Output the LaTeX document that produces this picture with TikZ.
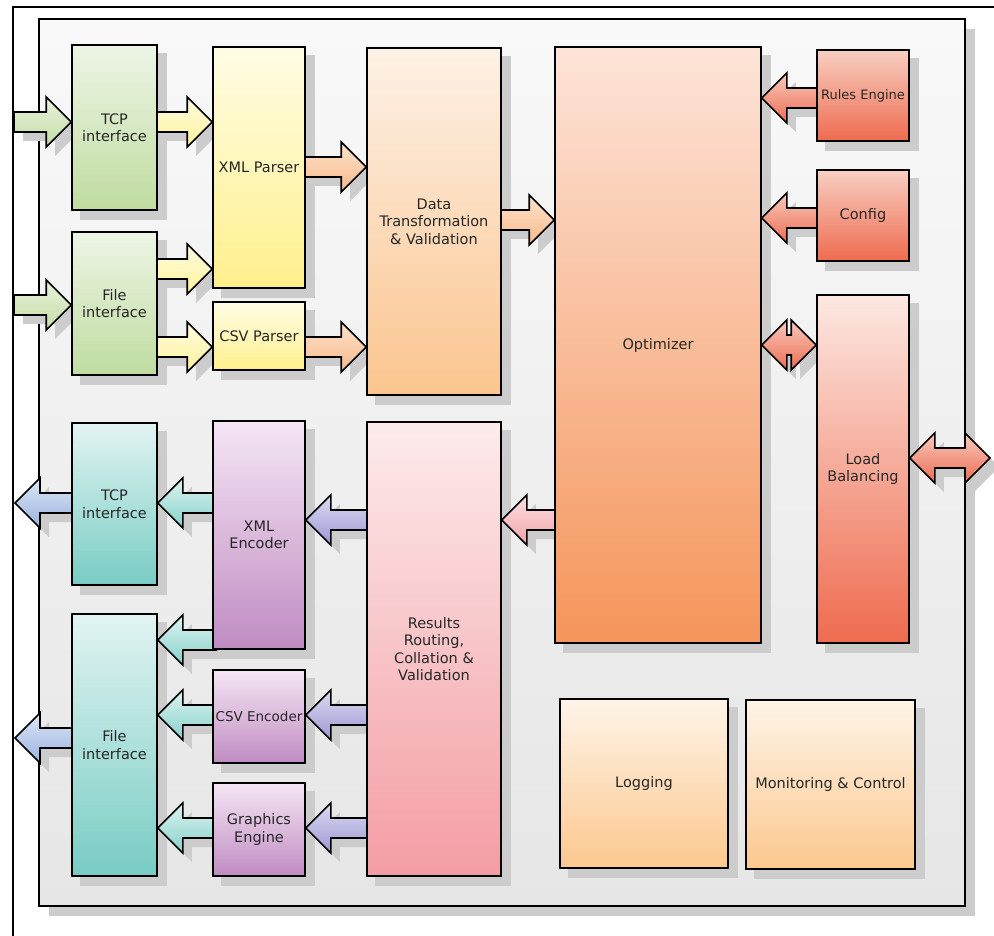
\documentclass[tikz,border=0pt]{standalone}
\usepackage{fontspec}
\setmainfont{DejaVu Sans}
\usetikzlibrary{calc}
\pgfdeclarelayer{back}
\pgfdeclarelayer{shad}
\pgfdeclarelayer{arr}
\pgfsetlayers{back,shad,arr,main}
% box colours
\definecolor{contT}{HTML}{F9F9F9}\definecolor{contB}{HTML}{E6E6E6}
\definecolor{grnT}{HTML}{EEF5E6}\definecolor{grnB}{HTML}{BFDCA0}
\definecolor{yelT}{HTML}{FFFDE6}\definecolor{yelB}{HTML}{FFF08C}
\definecolor{datT}{HTML}{FDF1E6}\definecolor{datB}{HTML}{FBC58F}
\definecolor{optT}{HTML}{FDE4D8}\definecolor{optB}{HTML}{F5955A}
\definecolor{redT}{HTML}{F8CFC3}\definecolor{redB}{HTML}{EE6B4E}
\definecolor{lodT}{HTML}{FDE8E2}\definecolor{lodB}{HTML}{EE6B4E}
\definecolor{tealT}{HTML}{E2F4F2}\definecolor{tealB}{HTML}{78CCC4}
\definecolor{purT}{HTML}{F5E6F5}\definecolor{purB}{HTML}{C08CC2}
\definecolor{resT}{HTML}{FDEBEC}\definecolor{resB}{HTML}{F39DA3}
\definecolor{logT}{HTML}{FEF4E8}\definecolor{logB}{HTML}{FCC88E}
% arrow colours
\definecolor{agreenT}{HTML}{E8F2DC}\definecolor{agreenB}{HTML}{C3DDA5}
\definecolor{ayellT}{HTML}{FFFCE0}\definecolor{ayellB}{HTML}{FFF29A}
\definecolor{aorT}{HTML}{FDE3CC}\definecolor{aorB}{HTML}{F9B98A}
\definecolor{aredT}{HTML}{F9C9BD}\definecolor{aredB}{HTML}{EC6D52}
\definecolor{apinkT}{HTML}{FCE0E1}\definecolor{apinkB}{HTML}{F2A3A8}
\definecolor{apurT}{HTML}{DCDAF2}\definecolor{apurB}{HTML}{9C98D4}
\definecolor{atealT}{HTML}{DDF3F0}\definecolor{atealB}{HTML}{86D1CA}
\definecolor{ablueT}{HTML}{DCE6F6}\definecolor{ablueB}{HTML}{9BB3E0}
\tikzset{
  box/.style={draw=black, line width=1.6pt, align=center, inner sep=1pt,
    font=\fontsize{14.5}{17.5}\selectfont, text=black!85},
  grn/.style={top color=grnT, bottom color=grnB},
  yel/.style={top color=yelT, bottom color=yelB},
  dat/.style={top color=datT, bottom color=datB},
  optc/.style={top color=optT, bottom color=optB},
  redc/.style={top color=redT, bottom color=redB},
  lodc/.style={top color=lodT, bottom color=lodB},
  tealc/.style={top color=tealT, bottom color=tealB},
  purc/.style={top color=purT, bottom color=purB},
  resc/.style={top color=resT, bottom color=resB},
  logc/.style={top color=logT, bottom color=logB},
  arrowline/.style={draw=black, line width=1.6pt, line join=miter},
  shadowc/.style={fill=black!20},
}
% single block arrow outline: from, to, dir, dx, dy
\newcommand{\shapeR}[5]{($(#1 |- ya)+({#4-(#3)*4},{#5-10})$) -- ($(#2 |- ya)+({#4-(#3)*25},{#5-10})$) -- ($(#2 |- ya)+({#4-(#3)*25},{#5-25})$) -- ($(#2 |- ya)+(#4,#5)$) -- ($(#2 |- ya)+({#4-(#3)*25},{#5+25})$) -- ($(#2 |- ya)+({#4-(#3)*25},{#5+10})$) -- ($(#1 |- ya)+({#4-(#3)*4},{#5+10})$) -- cycle}
% double block arrow outline: left, right, dx, dy
\newcommand{\shapeD}[4]{($(#1 |- ya)+(#3,#4)$) -- ($(#1 |- ya)+({#3+25},{#4-25})$) -- ($(#1 |- ya)+({#3+25},{#4-10})$) -- ($(#2 |- ya)+({#3-25},{#4-10})$) -- ($(#2 |- ya)+({#3-25},{#4-25})$) -- ($(#2 |- ya)+(#3,#4)$) -- ($(#2 |- ya)+({#3-25},{#4+25})$) -- ($(#2 |- ya)+({#3-25},{#4+10})$) -- ($(#1 |- ya)+({#3+25},{#4+10})$) -- ($(#1 |- ya)+({#3+25},{#4+25})$) -- cycle}
\newcommand{\barrow}[5]{%
  \coordinate (ya) at (0,#3);
  \begin{pgfonlayer}{shad}\fill[shadowc] \shapeR{#1}{#2}{#4}{9}{9};\end{pgfonlayer}
  \begin{pgfonlayer}{arr}\draw[arrowline, top color=#5T, bottom color=#5B] \shapeR{#1}{#2}{#4}{0}{0};\end{pgfonlayer}}
\newcommand{\darrow}[4]{%
  \coordinate (ya) at (0,#3);
  \begin{pgfonlayer}{shad}\fill[shadowc] \shapeD{#1}{#2}{9}{9};\end{pgfonlayer}
  \begin{pgfonlayer}{arr}\draw[arrowline, top color=#4T, bottom color=#4B] \shapeD{#1}{#2}{0}{0};\end{pgfonlayer}}
\begin{document}
\begin{tikzpicture}[x=1pt,y=-1pt]
\useasboundingbox (0,0) rectangle (994,936);
\begin{pgfonlayer}{back}
  \draw[line width=1.2pt] (13,936) -- (13,7) -- (994,7);
  \fill[shadowc] (49,29) rectangle (975,916);
  \draw[line width=1.6pt, top color=contT, bottom color=contB] (39,19) rectangle (965,906);
\end{pgfonlayer}
% blocks
\node[box, grn, minimum width=85pt, minimum height=165pt] (tcpin) at (114.5,127.5) {TCP\\interface};
\node[box, grn, minimum width=85pt, minimum height=143pt] (filein) at (114.5,303.5) {File\\interface};
\node[box, yel, minimum width=92pt, minimum height=241pt] (xmlp) at (259,167.5) {XML Parser};
\node[box, yel, minimum width=92pt, minimum height=68pt] (csvp) at (259,336) {CSV Parser};
\node[box, dat, minimum width=134pt, minimum height=347pt] (data) at (434,221.5) {Data\\Transformation\\\& Validation};
\node[box, optc, minimum width=206pt, minimum height=596pt] (opt) at (658,345) {Optimizer};
\node[box, redc, minimum width=92pt, minimum height=91pt, font=\fontsize{13}{16}\selectfont] (rules) at (863,95.5) {Rules Engine};
\node[box, redc, minimum width=92pt, minimum height=91pt] (config) at (863,215.5) {Config};
\node[box, lodc, minimum width=92pt, minimum height=348pt] (load) at (863,469) {Load\\Balancing};
\node[box, tealc, minimum width=85pt, minimum height=162pt] (tcpout) at (114.5,504) {TCP\\interface};
\node[box, purc, minimum width=92pt, minimum height=228pt] (xmle) at (259,535) {XML\\Encoder};
\node[box, tealc, minimum width=85pt, minimum height=262pt] (fileout) at (114.5,745) {File\\interface};
\node[box, purc, minimum width=92pt, minimum height=93pt, font=\fontsize{13.5}{16}\selectfont] (csve) at (259,716.5) {CSV Encoder};
\node[box, purc, minimum width=92pt, minimum height=93pt] (gfx) at (259,829.5) {Graphics\\Engine};
\node[box, resc, minimum width=134pt, minimum height=454pt] (res) at (434,649) {Results\\Routing,\\Collation \&\\Validation};
\node[box, logc, minimum width=168pt, minimum height=169pt] (log) at (644,783.5) {Logging};
\node[box, logc, minimum width=169pt, minimum height=169pt] (mon) at (830.5,784.5) {Monitoring \& Control};
\begin{pgfonlayer}{shad}
\foreach \n in {tcpin,filein,xmlp,csvp,data,opt,rules,config,load,tcpout,xmle,fileout,csve,gfx,res,log,mon}
  \fill[shadowc] ($(\n.north west)+(9,9)$) rectangle ($(\n.south east)+(9,9)$);
\end{pgfonlayer}
% free ends
\coordinate (inA) at (18,122);
\coordinate (inB) at (18,305);
\coordinate (outA) at (15,503);
\coordinate (outB) at (15,738);
\coordinate (ext) at (990,458);
% connectors
\barrow{inA}{tcpin.west}{122}{1}{agreen}
\barrow{inB}{filein.west}{305}{1}{agreen}
\barrow{tcpin.east}{xmlp.west}{122}{1}{ayell}
\barrow{filein.east}{xmlp.west}{269}{1}{ayell}
\barrow{filein.east}{csvp.west}{347}{1}{ayell}
\barrow{xmlp.east}{data.west}{167}{1}{aor}
\barrow{csvp.east}{data.west}{347}{1}{aor}
\barrow{data.east}{opt.west}{220}{1}{aor}
\barrow{rules.west}{opt.east}{98}{-1}{ared}
\barrow{config.west}{opt.east}{218}{-1}{ared}
\darrow{opt.east}{load.west}{345}{ared}
\darrow{load.east}{ext}{458}{ared}
\barrow{opt.west}{res.east}{520}{-1}{apink}
\barrow{res.west}{xmle.east}{520}{-1}{apur}
\barrow{res.west}{csve.east}{715}{-1}{apur}
\barrow{res.west}{gfx.east}{828}{-1}{apur}
\barrow{xmle.west}{tcpout.east}{503}{-1}{ateal}
\barrow{xmle.west}{fileout.east}{640}{-1}{ateal}
\barrow{csve.west}{fileout.east}{715}{-1}{ateal}
\barrow{gfx.west}{fileout.east}{828}{-1}{ateal}
\barrow{tcpout.west}{outA}{503}{-1}{ablue}
\barrow{fileout.west}{outB}{738}{-1}{ablue}
\end{tikzpicture}
\end{document}
